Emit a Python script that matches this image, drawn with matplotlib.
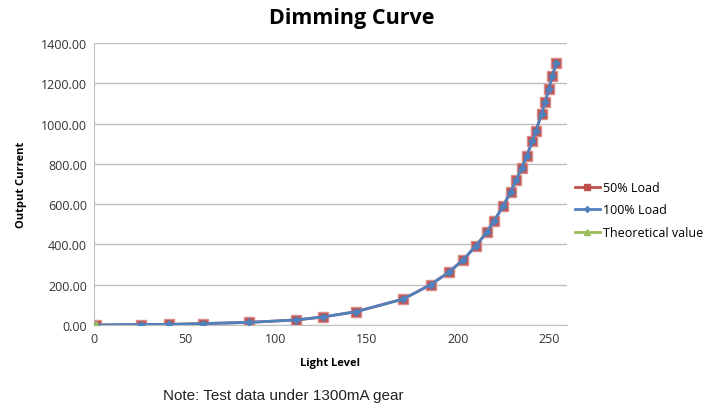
import numpy as np
import matplotlib.pyplot as plt
from matplotlib.lines import Line2D

# data
light_level = [1, 26, 41, 60, 85, 111, 126, 144, 170, 185, 195, 203, 210, 216,
               220, 225, 229, 232, 235, 238, 241, 243, 246, 248, 250, 252, 254]
load_50 = [0, 2, 3, 7, 13, 25, 40, 66, 129, 200, 262, 324, 394, 462,
           518, 592, 660, 718, 778, 841, 915, 965, 1049, 1106, 1172, 1238, 1300]
load_100 = list(load_50)
theo_level = [1]
theo_value = [0]

red = '#C0504D'
blue = '#4F81BD'
green = '#9BBB59'

plt.rcParams['font.family'] = ['Open Sans', 'DejaVu Sans']

fig = plt.figure(figsize=(7.11, 4.10), dpi=100)
ax = fig.add_axes([94/711, 1 - 326/410, (567 - 94)/711, (326 - 44)/410])

ax.plot(light_level, load_50, color=red, lw=2, marker='s', ms=6.5,
        mfc=red, mec='#D98C8A', zorder=2)
ax.plot(light_level, load_100, color=blue, lw=2, marker='D', ms=3.5,
        mfc=blue, mec=blue, zorder=3)
ax.plot(theo_level, theo_value, color=green, lw=2, marker='^', ms=6,
        mfc=green, mec=green, ls='none', zorder=4)

ax.set_xlim(0, 260)
ax.set_ylim(0, 1400)
ax.set_xticks([0, 50, 100, 150, 200, 250])
ax.set_yticks(np.arange(0, 1401, 200))
ax.set_yticklabels(['%.2f' % v for v in np.arange(0, 1401, 200)])
ax.tick_params(axis='both', length=0, labelsize=9, colors='#333333', pad=5)
ax.grid(axis='y', color='#BFBFBF', lw=1)
ax.set_axisbelow(True)
for s in ['top', 'right']:
    ax.spines[s].set_visible(False)
ax.spines['left'].set_color('#BFBFBF')
ax.spines['bottom'].set_color('#BFBFBF')

ax.set_xlabel('Light Level', fontsize=8, fontweight='bold', labelpad=9)
ax.set_ylabel('Output Current', fontsize=8, fontweight='bold', labelpad=10)
fig.text(0.494, 0.955, 'Dimming Curve', ha='center', va='center',
         fontsize=15.5, fontweight='bold')
fig.text(283/711, 1 - 396/410, 'Note: Test data under 1300mA gear',
         ha='center', va='center', fontsize=11, family='Liberation Sans',
         color='#222222')

handles = [
    Line2D([], [], color=red, lw=2, marker='s', ms=5, mfc=red, mec=red),
    Line2D([], [], color=blue, lw=2, marker='D', ms=3, mfc=blue, mec=blue),
    Line2D([], [], color=green, lw=2, marker='^', ms=4, mfc=green, mec=green),
]
fig.legend(handles, ['50% Load', '100% Load', 'Theoretical value'],
           loc='center left', bbox_to_anchor=(572/711, 1 - 211/410),
           borderaxespad=0, borderpad=0.2, frameon=False, fontsize=9,
           handlelength=2, handletextpad=0.3, labelspacing=0.75)

plt.savefig('out.png', dpi=100)
